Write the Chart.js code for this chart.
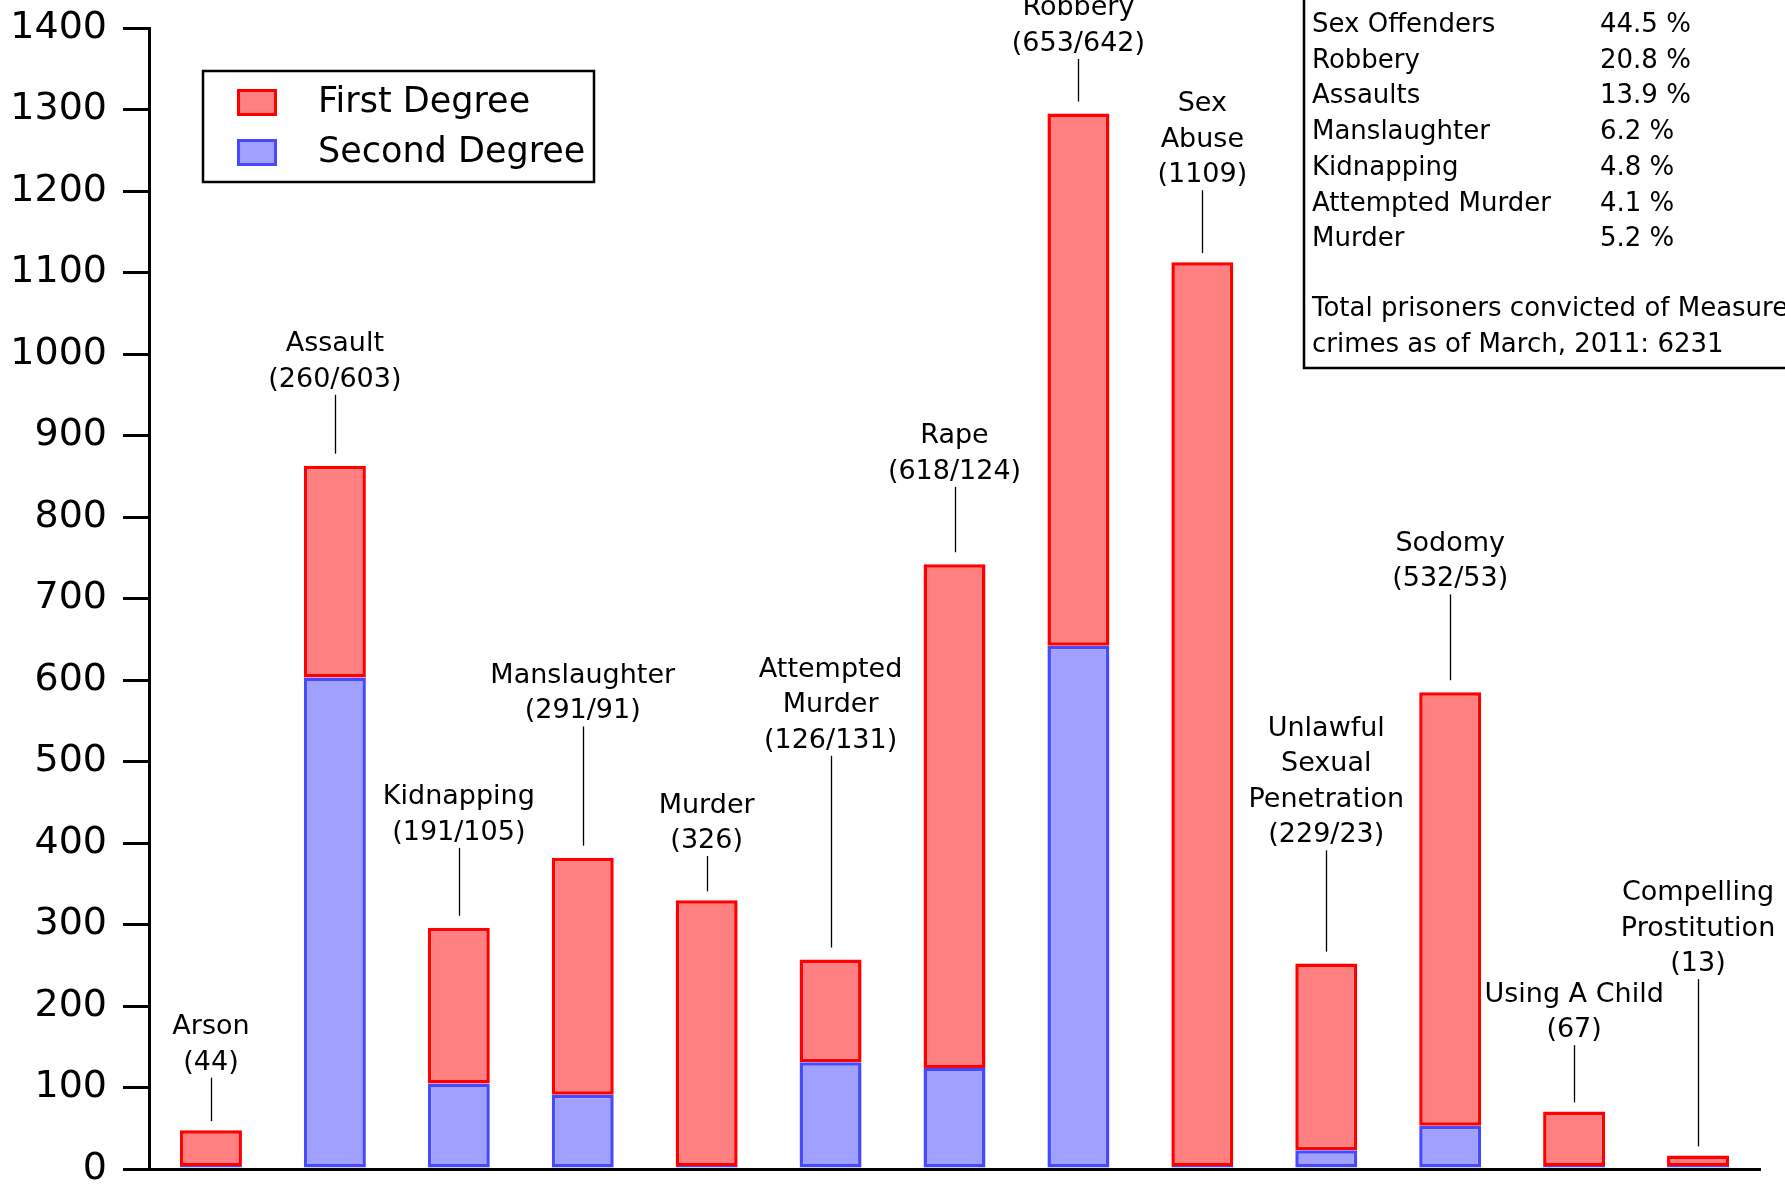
<!DOCTYPE html>
<html><head><meta charset="utf-8">
<script src="https://cdn.jsdelivr.net/npm/chart.js@4/dist/chart.umd.min.js"></script>
<style>html,body{margin:0;padding:0;background:#fff;overflow:hidden}canvas{display:block}</style>
</head><body>
<canvas id="c" width="1785" height="1186"></canvas>
<script>
// ---- data ----
const categories = [
  ["Arson"], ["Assault"], ["Kidnapping"], ["Manslaughter"], ["Murder"],
  ["Attempted", "Murder"], ["Rape"], ["Robbery"], ["Sex", "Abuse"],
  ["Unlawful", "Sexual", "Penetration"], ["Sodomy"], ["Using A Child"],
  ["Compelling", "Prostitution"]
];
const firstDegree  = [44, 260, 191, 291, 326, 126, 618, 653, 1109, 229, 532, 67, 13];
const secondDegree = [0, 603, 105, 91, 0, 131, 124, 642, 0, 23, 53, 0, 0];
// value (in y units) where each callout leader line starts
const labelAnchor  = [112, 950, 394, 543, 384, 507, 837, 1362, 1201, 391, 705, 152, 233];
const yTicks = [0, 100, 200, 300, 400, 500, 600, 700, 800, 900, 1000, 1100, 1200, 1300, 1400];
const seriesNames = ["First Degree", "Second Degree"];
const shareNames = ["Sex Offenders", "Robbery", "Assaults", "Manslaughter", "Kidnapping", "Attempted Murder", "Murder"];
const sharePercents = [44.5, 20.8, 13.9, 6.2, 4.8, 4.1, 5.2];
const noteLines = ["Total prisoners convicted of Measure 11", "crimes as of March, 2011: 6231"];

// ---- styles ----
const FONT = "'DejaVu Sans', sans-serif";
const RED_FILL = "#ff8080", RED_LINE = "#ff0000";
const BLUE_FILL = "#a0a0ff", BLUE_LINE = "#4848ff";

const bgPlugin = {
  id: "bg",
  beforeDraw(chart) {
    const ctx = chart.ctx;
    ctx.save(); ctx.fillStyle = "#fff"; ctx.fillRect(0, 0, chart.width, chart.height); ctx.restore();
  }
};

const calloutPlugin = {
  id: "callouts",
  afterDatasetsDraw(chart) {
    const ctx = chart.ctx;
    const xs = chart.scales.x, ys = chart.scales.y;
    ctx.save();
    ctx.font = "27px " + FONT;
    ctx.fillStyle = "#000";
    ctx.textAlign = "center";
    ctx.textBaseline = "alphabetic";
    ctx.strokeStyle = "#000";
    ctx.lineWidth = 1.3;
    categories.forEach((lines, i) => {
      const x = xs.getPixelForValue(i);
      const total = firstDegree[i] + secondDegree[i];
      const yTop = ys.getPixelForValue(total);
      const yA = ys.getPixelForValue(labelAnchor[i]);
      ctx.beginPath();
      ctx.moveTo(Math.round(x) + 0.5, yA);
      ctx.lineTo(Math.round(x) + 0.5, yTop - 12);
      ctx.stroke();
      const numTxt = secondDegree[i] ? "(" + firstDegree[i] + "/" + secondDegree[i] + ")" : "(" + firstDegree[i] + ")";
      const all = lines.concat([numTxt]);
      const lh = 35.5;
      all.forEach((t, k) => {
        const by = yA - 8 - (all.length - 1 - k) * lh;
        ctx.fillText(t, x, by);
      });
    });
    ctx.restore();
  }
};

const legendPlugin = {
  id: "boxLegend",
  afterDraw(chart) {
    const ctx = chart.ctx;
    ctx.save();
    ctx.strokeStyle = "#000"; ctx.lineWidth = 2.5;
    ctx.strokeRect(203, 71, 391, 111);
    const items = [
      { name: seriesNames[0], fill: RED_FILL, line: RED_LINE, y: 89 },
      { name: seriesNames[1], fill: BLUE_FILL, line: BLUE_LINE, y: 139 }
    ];
    ctx.font = "35px " + FONT;
    ctx.textBaseline = "middle"; ctx.textAlign = "left";
    items.forEach(it => {
      ctx.fillStyle = it.fill; ctx.fillRect(237, it.y, 40, 27);
      ctx.strokeStyle = it.line; ctx.lineWidth = 3; ctx.strokeRect(238.5, it.y + 1.5, 37, 24);
      ctx.fillStyle = "#000"; ctx.fillText(it.name, 318, it.y + 14);
    });
    ctx.strokeStyle = "#000"; ctx.lineWidth = 2.5;
    ctx.strokeRect(1304, -20, 600, 388);
    ctx.font = "26px " + FONT;
    ctx.textBaseline = "alphabetic";
    ctx.fillStyle = "#000";
    const lh = 35.7;
    shareNames.forEach((n, k) => {
      const by = 32 + k * lh;
      ctx.fillText(n, 1312, by);
      ctx.fillText(sharePercents[k].toFixed(1) + " %", 1600, by);
    });
    noteLines.forEach((t, k) => ctx.fillText(t, 1312, 316 + k * lh));
    ctx.restore();
  }
};

new Chart(document.getElementById("c"), {
  type: "bar",
  data: {
    labels: categories.map(c => c.join(" ")),
    datasets: [
      { label: seriesNames[1], data: secondDegree, backgroundColor: BLUE_FILL, borderColor: BLUE_LINE,
        borderWidth: 3.5, borderSkipped: false, minBarLength: 3, stack: "s" },
      { label: seriesNames[0], data: firstDegree, backgroundColor: RED_FILL, borderColor: RED_LINE,
        borderWidth: 3.5, borderSkipped: false, stack: "s" }
    ]
  },
  options: {
    responsive: false,
    devicePixelRatio: 1,
    animation: false,
    events: [],
    layout: { padding: { left: 0, top: 28, right: 25, bottom: 17 } },
    plugins: { legend: { display: false }, tooltip: { enabled: false }, title: { display: false } },
    datasets: { bar: { categoryPercentage: 1, barPercentage: 0.5 } },
    scales: {
      x: {
        stacked: true,
        offset: true,
        ticks: { display: false },
        grid: { display: false },
        border: { display: true, color: "#000", width: 3 },
        afterFit: s => { s.height = 0; }
      },
      y: {
        stacked: true,
        min: 0, max: 1400,
        afterBuildTicks: s => { s.ticks = yTicks.map(v => ({ value: v })); },
        ticks: { color: "#000", padding: 16, font: { family: FONT, size: 38, lineHeight: 0.02 },
                 callback: v => String(v) },
        grid: { drawOnChartArea: false, drawTicks: true, tickLength: 26, color: "#000", lineWidth: 3 },
        border: { display: true, color: "#000", width: 3 },
        afterFit: s => { s.width = 149; }
      }
    }
  },
  plugins: [bgPlugin, calloutPlugin, legendPlugin]
});
</script>
</body></html>
